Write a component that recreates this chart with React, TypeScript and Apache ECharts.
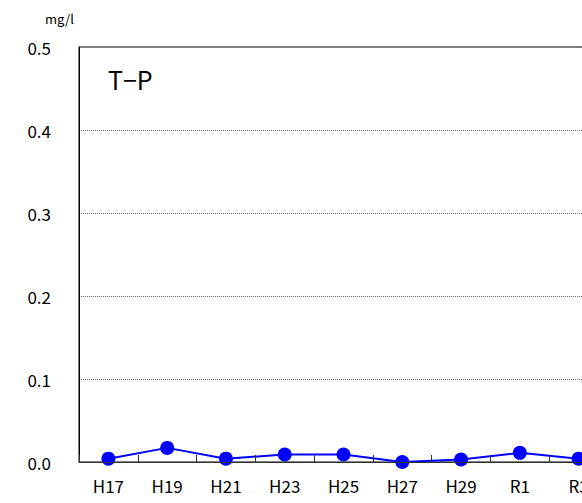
import React, { useEffect, useRef } from "react";
import * as echarts from "echarts";

const categories = ["H17", "H19", "H21", "H23", "H25", "H27", "H29", "R1", "R3"];
const tpValues = [0.004, 0.017, 0.004, 0.009, 0.009, 0.0, 0.003, 0.011, 0.004];
const yTicks = { min: 0, max: 0.5, interval: 0.1 };
const unitLabel = "mg/l";
const chartTitle = "T−P";

const FONT = "'Noto Sans CJK JP', 'Noto Sans', sans-serif";

export default function App() {
  const ref = useRef<HTMLDivElement>(null);
  useEffect(() => {
    document.body.style.margin = "0";
    document.body.style.overflow = "hidden";
    const chart = echarts.init(ref.current!, null, { renderer: "svg" });
    chart.setOption({
      animation: false,
      backgroundColor: "#ffffff",
      grid: {
        left: 79,
        top: 47,
        bottom: 41,
        right: 1,
        show: true,
        borderColor: "#000000",
        borderWidth: 1,
        backgroundColor: "transparent",
      },
      graphic: [
        {
          type: "text",
          left: 45,
          top: 12,
          style: { text: unitLabel, fontSize: 13, fill: "#000", fontFamily: FONT },
        },
        {
          type: "text",
          left: 108,
          top: 66,
          style: { text: chartTitle, fontSize: 25, fill: "#000", fontFamily: FONT },
        },
      ],
      xAxis: {
        type: "category",
        data: categories,
        boundaryGap: true,
        axisLine: { show: true, lineStyle: { color: "#333", width: 1 } },
        axisTick: { show: true, inside: true, length: 7, lineStyle: { color: "#333", width: 1 } },
        axisLabel: {
          color: "#000",
          fontSize: 17,
          fontFamily: FONT,
          margin: 15,
          interval: 0,
        },
        splitLine: { show: false },
        z: 5,
      },
      yAxis: {
        type: "value",
        min: yTicks.min,
        max: yTicks.max,
        interval: yTicks.interval,
        axisLine: { show: true, lineStyle: { color: "#000", width: 1 } },
        axisTick: { show: false },
        axisLabel: {
          color: "#000",
          fontSize: 17,
          fontFamily: FONT,
          margin: 28,
          formatter: (v: number) => v.toFixed(1),
        },
        splitLine: { show: true, lineStyle: { color: "#777", type: "dotted", width: 1 } },
      },
      series: [
        {
          type: "line",
          data: tpValues,
          symbol: "circle",
          symbolSize: 14,
          lineStyle: { color: "#0000ff", width: 2 },
          itemStyle: { color: "#0000ff" },
          z: 3,
        },
      ],
    });
    return () => chart.dispose();
  }, []);
  return <div ref={ref} style={{ width: 609, height: 503 }} />;
}
